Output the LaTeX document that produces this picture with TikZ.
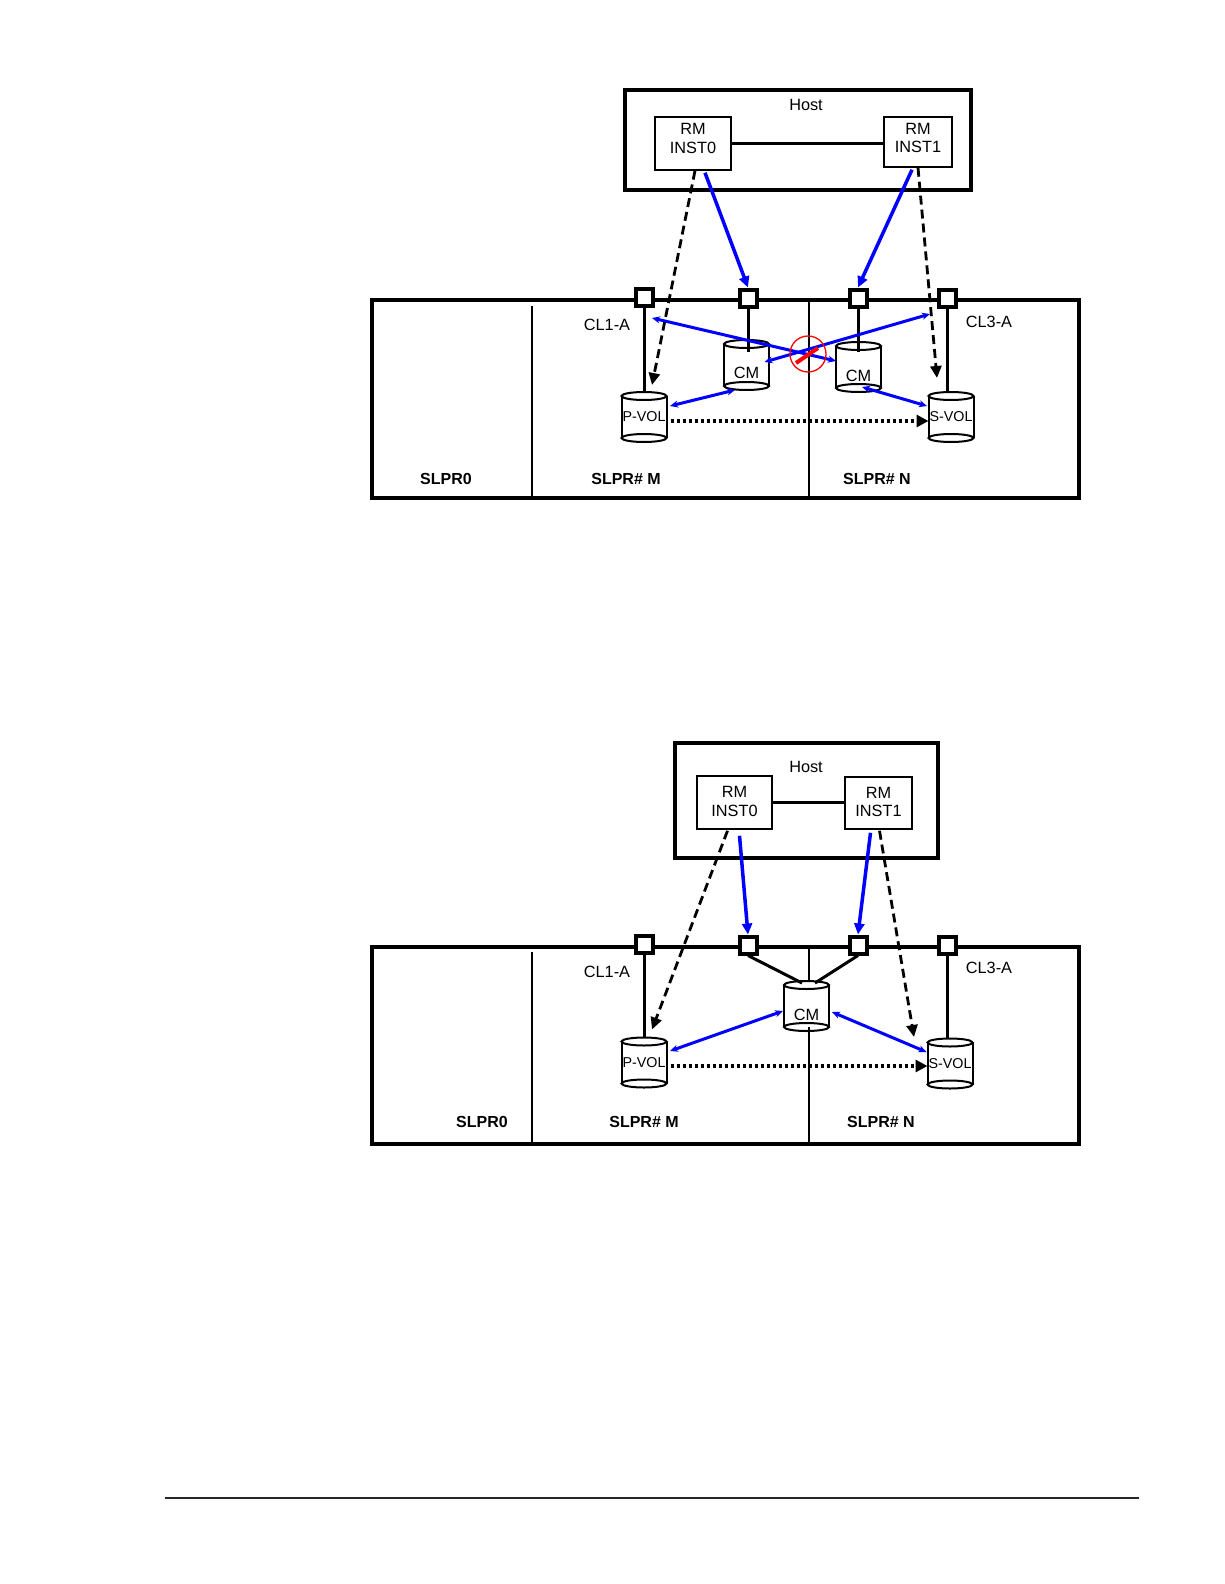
\documentclass[tikz,border=0pt]{standalone}
\usepackage{fontspec}
\setmainfont{Liberation Sans}
\usetikzlibrary{arrows.meta,calc}
\newcommand\drumshape[6]{% name, cx, cy, text dy, text style, text
  \fill[white] (#2-22.5,#3-21) rectangle (#2+22.5,#3+21);
  \draw[drumline] (#2,#3+21) ellipse[x radius=22.5, y radius=4];
  \draw[drumline] (#2-22.5,#3-21) -- (#2-22.5,#3+21) (#2+22.5,#3-21) -- (#2+22.5,#3+21);
  \draw[drumline,fill=white] (#2,#3-21) ellipse[x radius=22.5, y radius=4];
  \node[drumbox] (#1) at (#2,#3) {};
  \node[#5] (#1t) at (#2,#3+#4) {#6};
}
\begin{document}
\begin{tikzpicture}[x=1pt,y=-1pt,
  every node/.style={font=\fontsize{16.3}{18.5}\selectfont},
  hostbox/.style={draw,line width=3.2pt},
  bigbox/.style={draw,line width=3.2pt},
  divider/.style={line width=1.5pt},
  rmbox/.style={draw,line width=1.5pt,fill=white,inner sep=0pt},
  rmtext/.style={inner sep=0pt,align=center},
  rmlink/.style={line width=2.2pt},
  port/.style={draw,line width=4pt,fill=white,minimum size=17pt,inner sep=0pt},
  portline/.style={line width=3pt},
  drumline/.style={line width=2pt},
  drumbox/.style={rectangle,minimum width=45pt,minimum height=50pt,inner sep=0pt,outer sep=0pt},
  voltext/.style={inner sep=0pt,font=\fontsize{14.3}{17}\selectfont},
  cmtext/.style={inner sep=0pt,font=\fontsize{16.3}{19}\selectfont},
  plain/.style={inner sep=0pt},
  slpr/.style={inner sep=0pt,font=\fontsize{16}{19}\selectfont\bfseries},
  cmdarrow/.style={blue,line width=3.5pt,-{Triangle[length=11pt,width=10pt]}},
  pairarrow/.style={blue,line width=3pt,{Stealth[length=8pt,width=7pt]}-{Stealth[length=8pt,width=7pt]}},
  dasharrow/.style={line width=2.8pt,dash pattern=on 9pt off 5pt,-{Triangle[length=12pt,width=11pt]}},
  copyarrow/.style={line width=3.5pt,dash pattern=on 3.5pt off 2.5pt,-{Triangle[length=12pt,width=12pt]}},
  banbar/.style={red,line width=4pt}
]
\useasboundingbox (0,0) rectangle (1224,1584);

% ================= TOP DIAGRAM =================
\draw[hostbox] (625,90) rectangle (971,190);
\node[plain] (hostA) at (806,105) {Host};
\node[rmbox,minimum width=76pt,minimum height=53pt] (rm0) at (693,143.5) {};
\node[rmtext] (rm0t) at ($(rm0.center)+(0,-5)$) {RM\\INST0};
\node[rmbox,minimum width=68pt,minimum height=50pt] (rm1) at (918,142) {};
\node[rmtext] (rm1t) at ($(rm1.center)+(0,-4)$) {RM\\INST1};
\draw[rmlink] (rm0.east) -- (rm0.east -| rm1.west);

\draw[bigbox] (372,300) rectangle (1079,498);
\draw[divider] (532,306) -- (532,498);
\draw[divider] (809,300) -- (809,498);

\node[plain] (cl1a) at (607,325) {CL1-A};
\node[plain] (cl3a) at (989,322) {CL3-A};
\node[slpr] (s0a) at (446,479) {SLPR0};
\node[slpr] (sma) at (626,479) {SLPR\# M};
\node[slpr] (sna) at (877,479) {SLPR\# N};

\drumshape{pvol}{644}{417}{0}{voltext}{P-VOL}
\drumshape{cmL}{746.5}{365}{8}{cmtext}{CM}
\drumshape{cmR}{858.5}{367}{9}{cmtext}{CM}
\drumshape{svol}{951}{417}{0}{voltext}{S-VOL}

\node[port] (p1) at (644,297) {};
\node[port] (p2) at (748,298) {};
\node[port] (p3) at (858,298) {};
\node[port] (p4) at (947,298) {};

\draw[portline] (p1.south) -- (p1.south |- pvol.north);
\draw[portline] (p2.south) -- ($(p2.south |- cmL.north)+(0,12)$);
\draw[portline] (p3.south) -- ($(p3.south |- cmR.north)+(0,10)$);
\draw[portline] (p4.south) -- ($(p4.south |- svol.north)+(0,1)$);

\draw[cmdarrow] ($(rm0.south)+(12,2)$) -- (p2.north);
\draw[cmdarrow] ($(rm1.south)+(-6,2)$) -- (p3.north);
\draw[dasharrow] ($(rm0.south)+(2,0)$) -- ($(pvol.north)+(8,-7)$);
\draw[dasharrow] ($(rm1.south)+(0,0)$) -- ($(svol.north)+(-14,-14)$);

\draw[pairarrow] ($(p1.south)+(8,10.5)$) -- ($(cmR.west)+(0,-6)$);
\draw[pairarrow] ($(cmL.east)+(-4.5,-3)$) -- ($(p4.south)+(-17,5.5)$);
\draw[pairarrow] ($(pvol.east)+(3.5,-11)$) -- ($(cmL.south)+(-11.5,0)$);
\draw[pairarrow] ($(cmR.south)+(3.5,-5)$) -- ($(svol.west)+(-1.5,-11)$);
\draw[copyarrow] ($(pvol.east)+(4,4)$) -- ($(svol.west)+(0,4)$);

\node[circle,draw=red,line width=1.3pt,minimum size=36pt,inner sep=0pt] (noway) at (808,354) {};
\draw[banbar] ($(noway.center)+(-12,9)$) -- ($(noway.center)+(10,-6)$);

% ================= BOTTOM DIAGRAM =================
\draw[hostbox] (675,743) rectangle (938,858);
\node[plain] (hostB) at (806,767) {Host};
\node[rmbox,minimum width=75pt,minimum height=53pt] (rm2) at (734.5,802.5) {};
\node[rmtext] (rm2t) at ($(rm2.center)+(0,-1)$) {RM\\INST0};
\node[rmbox,minimum width=67pt,minimum height=52pt] (rm3) at (878.5,803) {};
\node[rmtext] (rm3t) at ($(rm3.center)+(0,-1)$) {RM\\INST1};
\draw[rmlink] (rm2.east) -- (rm2.east -| rm3.west);

\draw[bigbox] (372,947) rectangle (1079,1144);
\draw[divider] (532,952) -- (532,1144);
\draw[divider] (809,947) -- (809,1144);

\node[plain] (cl1b) at (607,972) {CL1-A};
\node[plain] (cl3b) at (989,968) {CL3-A};
\node[slpr] (s0b) at (482,1122) {SLPR0};
\node[slpr] (smb) at (644,1122) {SLPR\# M};
\node[slpr] (snb) at (881,1122) {SLPR\# N};

\drumshape{pvolb}{644}{1062.5}{0}{voltext}{P-VOL}
\drumshape{cmb}{806.5}{1006}{9}{cmtext}{CM}
\drumshape{svolb}{950}{1063.5}{0}{voltext}{S-VOL}

\node[port] (q1) at (644,944) {};
\node[port] (q2) at (748,945) {};
\node[port] (q3) at (858,945) {};
\node[port] (q4) at (947,945) {};

\draw[portline] (q1.south) -- (q1.south |- pvolb.north);
\draw[portline] (q4.south) -- (q4.south |- svolb.north);
\draw[portline] (q2.south) -- ($(cmb.north)+(-4.5,2)$);
\draw[portline] (q3.south) -- ($(cmb.north)+(8.5,2)$);

\draw[cmdarrow] ($(rm2.south)+(5,6)$) -- (q2.north);
\draw[cmdarrow] ($(rm3.south)+(-8,3)$) -- (q3.north);
\draw[dasharrow] ($(rm2.south)+(-7,1)$) -- ($(pvolb.north)+(8,-8)$);
\draw[dasharrow] ($(rm3.south)+(1,1)$) -- ($(svolb.north)+(-36,-1.5)$);

\draw[pairarrow] ($(pvolb.east)+(3.5,-11.5)$) -- ($(cmb.west)+(-1,5)$);
\draw[pairarrow] ($(cmb.east)+(3,6)$) -- ($(svolb.west)+(-1,-11.5)$);
\draw[copyarrow] ($(pvolb.east)+(4,3.5)$) -- ($(svolb.west)+(0,2.5)$);

% footer rule
\draw[line width=2pt,black!85] (165,1498) -- (1139,1498);
\end{tikzpicture}
\end{document}
